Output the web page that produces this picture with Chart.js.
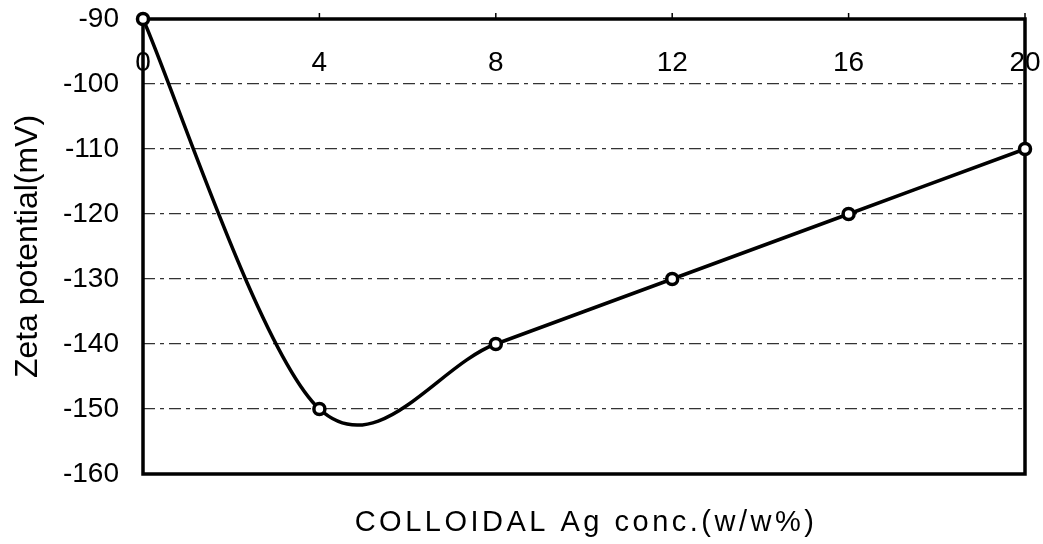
<!DOCTYPE html>
<html>
<head>
<meta charset="utf-8">
<script src="https://cdn.jsdelivr.net/npm/chart.js@4.4.1/dist/chart.umd.min.js"></script>
<style>
  html, body { margin:0; padding:0; background:#fff; }
  #wrap { width:1043px; height:544px; position:relative; }
</style>
</head>
<body>
<div id="wrap"><canvas id="zeta"></canvas></div>
<script>
// --- datos ---
const concentrations = [0, 4, 8, 12, 16, 20];
const zetaValues = [-90, -150, -140, -130, -120, -110];
const xTickLabels = ['0', '4', '8', '12', '16', '20'];
const yMin = -160, yMax = -90, yStep = 10;
const xTitle = 'COLLOIDAL Ag conc.(w/w%)';
const yTitle = 'Zeta potential(mV)';

const FONT = '"Liberation Sans", Arial, sans-serif';

// curva suave tipo Catmull-Rom uniforme (como la linea suavizada del original)
const smoothPlugin = {
  id: 'smooth',
  beforeDatasetsDraw(chart){
    chart.getSortedVisibleDatasetMetas().forEach(meta => {
      const line = meta.dataset;
      if (!line) return;
      line.updateControlPoints(chart.chartArea, meta.iScale.axis);
      const pts = meta.data;
      pts.forEach((p, i) => {
        const prev = pts[i - 1] || p, next = pts[i + 1] || p;
        const dx = (next.x - prev.x) / 6, dy = (next.y - prev.y) / 6;
        p.cp1x = p.x - dx; p.cp1y = p.y - dy;
        p.cp2x = p.x + dx; p.cp2y = p.y + dy;
      });
    });
  }
};

// caja del grafico, marcas arriba y etiquetas X dentro del area
const framePlugin = {
  id: 'frame',
  beforeDatasetsDraw(chart){
    const {ctx, chartArea: a, scales: {x}} = chart;
    ctx.save();
    ctx.strokeStyle = '#000';
    ctx.lineWidth = 3.5;
    ctx.strokeRect(a.left, a.top, a.right - a.left, a.bottom - a.top);
    // marcas pequeñas sobre el borde superior
    ctx.lineWidth = 1.5;
    concentrations.forEach(v => {
      const px = x.getPixelForValue(v);
      ctx.beginPath(); ctx.moveTo(px, a.top); ctx.lineTo(px, a.top - 6); ctx.stroke();
    });
    // etiquetas del eje X (dentro, debajo del borde superior)
    ctx.fillStyle = '#000';
    ctx.font = `28px ${FONT}`;
    ctx.textAlign = 'center';
    ctx.textBaseline = 'middle';
    concentrations.forEach((v, i) => {
      ctx.fillText(xTickLabels[i], x.getPixelForValue(v), a.top + 44);
    });
    ctx.restore();
  },
  afterDraw(chart){
    const {ctx, chartArea: a} = chart;
    ctx.save();
    ctx.fillStyle = '#000';
    ctx.font = `29px ${FONT}`;
    ctx.letterSpacing = '3.5px';
    ctx.textAlign = 'center';
    ctx.textBaseline = 'middle';
    ctx.fillText(xTitle, (a.left + a.right) / 2 + 2, 523);
    ctx.restore();
  }
};

new Chart(document.getElementById('zeta'), {
  type: 'line',
  data: {
    datasets: [{
      data: concentrations.map((c, i) => ({x: c, y: zetaValues[i]})),
      borderColor: '#000',
      borderWidth: 3.5,
      tension: 0.4,
      pointRadius: 5.5,
      pointBorderWidth: 3.5,
      pointBackgroundColor: '#fff',
      pointBorderColor: '#000',
      clip: false
    }]
  },
  options: {
    responsive: true,
    maintainAspectRatio: false,
    animation: false,
    layout: { padding: { top: 19, right: 18, left: 0, bottom: 0 } },
    plugins: { legend: { display: false }, tooltip: { enabled: false } },
    scales: {
      x: {
        type: 'linear', min: 0, max: 20, position: 'bottom',
        ticks: { display: false, stepSize: 4 },
        grid: { display: false },
        border: { display: false },
        afterFit: s => { s.height = 70; }
      },
      y: {
        min: yMin, max: yMax,
        ticks: { stepSize: yStep, color: '#000', font: { family: FONT, size: 28 }, padding: 0 },
        grid: { color: '#333', lineWidth: 1.2, drawTicks: true, tickLength: 24, tickColor: 'rgba(0,0,0,0)' },
        border: { display: false, dash: [12, 5, 4, 5] },
        title: { display: true, text: yTitle, color: '#000',
                 font: { family: FONT, size: 32 }, padding: { top: 9, bottom: 0 } },
        afterFit: s => { s.width = 143; }
      }
    }
  },
  plugins: [smoothPlugin, framePlugin]
});
</script>
</body>
</html>
